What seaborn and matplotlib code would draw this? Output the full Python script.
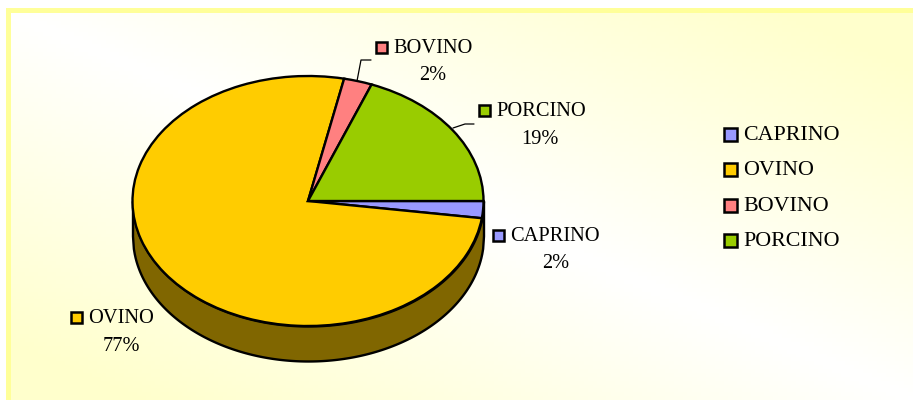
import numpy as np
import matplotlib
matplotlib.use('Agg')
import matplotlib.pyplot as plt
from matplotlib.patches import Rectangle
import seaborn as sns

# datos
categorias = ['CAPRINO', 'OVINO', 'BOVINO', 'PORCINO']
valores = [2.2, 76.1, 2.6, 19.1]
etiquetas_pct = ['2%', '77%', '2%', '19%']
colores = ['#9999FF', '#FFCC00', '#FF8080', '#99CC00']
color_pared = '#806600'

W, H = 913, 400
sns.set_theme(style='white')
plt.rcParams['font.family'] = ['Liberation Serif', 'DejaVu Serif']
paleta = sns.color_palette(colores)

fig = plt.figure(figsize=(W / 100, H / 100), dpi=100, facecolor='white')

# capa en pixeles para fondo, etiquetas y leyenda (origen arriba a la izquierda)
fondo = fig.add_axes([0, 0, 1, 1], zorder=0)
fondo.axis('off')

# degradado: amarillo en dos esquinas, blanco en la diagonal
xx, yy = np.meshgrid(np.linspace(0, 1, 200), np.linspace(0, 1, 100))
d = np.clip(np.abs(xx - yy) * 1.15, 0, 1)[..., None]
blanco = np.array([1.0, 1.0, 1.0])
amarillo = np.array([1.0, 1.0, 0.8])
img = blanco + (amarillo - blanco) * d
fondo.imshow(img[::-1], extent=[11, W, H, 13], aspect='auto', zorder=0, origin='lower')
fondo.set_xlim(0, W)
fondo.set_ylim(H, 0)
fondo.add_patch(Rectangle((6, 8), W - 6, 5, fc='#FFFF99', ec='none', zorder=1))
fondo.add_patch(Rectangle((6, 8), 5, H - 8, fc='#FFFF99', ec='none', zorder=1))

# tarta: radios en px, centro en (308, 201)
rx, ry, cx, cy = 175.5, 125, 308, 201
prof = 35 / ry
ax = fig.add_axes([(cx - rx * 1.25) / W, (H - cy - ry * 1.5) / H,
                   rx * 2.5 / W, ry * 3 / H], zorder=1)
ax.patch.set_alpha(0)

# pared lateral
x = np.linspace(-1, 1, 400)
y = -np.sqrt(1 - x ** 2)
ax.fill_between(x, y, y - prof, color=color_pared, ec='black', lw=1.7, zorder=1)

ax.pie(valores, colors=paleta, startangle=0, counterclock=False,
       wedgeprops={'edgecolor': 'black', 'linewidth': 1.7, 'zorder': 2})
ax.set_aspect('auto')
ax.set_xlim(-1.25, 1.25)
ax.set_ylim(-1.5, 1.5)
ax.axis('off')

# etiquetas de datos
capa = fig.add_axes([0, 0, 1, 1], zorder=2)
capa.set_xlim(0, W)
capa.set_ylim(H, 0)
capa.axis('off')

pos_etiquetas = [(491, 235, 556, 262), (69, 317, 121, 345),
                 (374, 47, 433, 74), (477, 110, 540, 138)]
for i, cat in enumerate(categorias):
    xc, yc, xp, yp = pos_etiquetas[i]
    capa.add_patch(Rectangle((xc + 2, yc - 5.5), 11, 11, fc=paleta[i], ec='black', lw=1.8))
    capa.text(xc + 19, yc + 1.5, cat, fontsize=14.7, color='black', va='center', ha='left')
    capa.text(xp, yp + 1.5, etiquetas_pct[i], fontsize=14.7, color='black', va='center', ha='center')

# lineas guia
capa.plot([357, 361, 371], [81, 60, 60], color='black', lw=0.9)
capa.plot([453, 465, 474], [128, 124, 124], color='black', lw=0.9)

# leyenda
ley_y = [134, 169, 205, 240]
for i, cat in enumerate(categorias):
    capa.add_patch(Rectangle((724, ley_y[i] - 6.5), 13, 13, fc=paleta[i], ec='black', lw=1.8))
    capa.text(743, ley_y[i] + 1.5, cat, fontsize=15.8, color='black', va='center', ha='left')

fig.savefig('out.png', dpi=100)
plt.close(fig)
